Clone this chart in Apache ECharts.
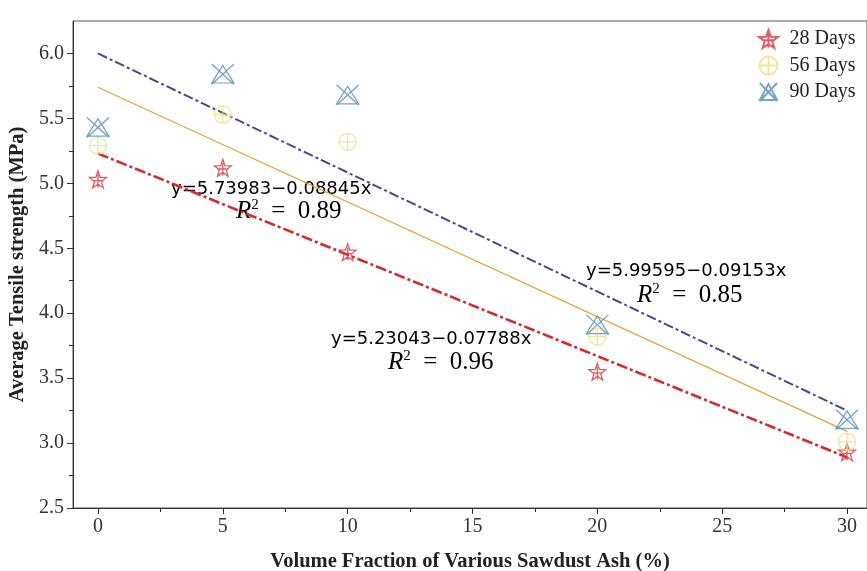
<!DOCTYPE html>
<html><head><meta charset="utf-8">
<script src="https://cdn.jsdelivr.net/npm/echarts@6/dist/echarts.min.js"></script>
<style>html,body{margin:0;padding:0;background:#fff}#c{width:867px;height:571px}</style>
</head><body><div id="c"></div>
<script>
// ---- data ----
const xValues = [0, 5, 10, 20, 30];
const days28 = [5.03, 5.12, 4.47, 3.55, 2.93];
const days56 = [5.29, 5.53, 5.32, 3.82, 3.01];
const days90 = [5.43, 5.84, 5.68, 3.91, 3.18];
const fitX = [0, 30];
const fit28 = [5.23, 2.89];
const fit56 = [5.74, 3.09];
const fit90 = [6.00, 3.25];
const xTicks = [0, 5, 10, 15, 20, 25, 30];
const xMinorTicks = [2.5, 7.5, 12.5, 17.5, 22.5, 27.5];
const yTicks = [2.5, 3.0, 3.5, 4.0, 4.5, 5.0, 5.5, 6.0];
const yMinorTicks = [2.75, 3.25, 3.75, 4.25, 4.75, 5.25, 5.75];
const seriesNames = ['28 Days', '56 Days', '90 Days'];
const equations = [
  {eq: 'y=5.73983\u22120.08845x', r2: '0.89'},
  {eq: 'y=5.99595\u22120.09153x', r2: '0.85'},
  {eq: 'y=5.23043\u22120.07788x', r2: '0.96'}
];

const pair = (xs, ys) => xs.map((x, i) => [x, ys[i]]);

const starPath = 'path://M50 0 L61.76 33.82 L97.55 34.55 L69.02 56.18 L79.39 90.45 L50 70 L20.61 90.45 L30.98 56.18 L2.45 34.55 L38.24 33.82 Z M18 52 L82 52 M50 20 L50 88';
const circlePlusPath = 'path://M50 2 A48 48 0 1 1 49.9 2 Z M2 50 L98 50 M50 2 L50 98';
const triXPath = 'path://M50 8 L96 92 L4 92 Z M4 2 L96 98 M96 2 L4 98';

const serif = 'Liberation Serif';
const axisColor = '#333';

const chart = echarts.init(document.getElementById('c'), null, {renderer: 'canvas'});

function eqGraphics(item, left, top, rLeft, rTop) {
  return [
    {type: 'text', left: left, top: top, style: {text: item.eq, font: '18px "DejaVu Sans"', fill: '#000'}},
    {type: 'text', left: rLeft, top: rTop, style: {
      rich: {
        r: {fontFamily: serif, fontStyle: 'italic', fontSize: 25, color: '#000'},
        s: {fontFamily: serif, fontSize: 15, verticalAlign: 'top', color: '#000', padding: [0, 0, 12, 0]},
        t: {fontFamily: serif, fontSize: 25, color: '#000'}
      },
      text: '{r|R}{s|2}{t|  =  ' + item.r2 + '}'
    }}
  ];
}

const option = {
  backgroundColor: '#fff',
  animation: false,
  grid: {left: 73, top: 21, right: 0, bottom: 63, outerBoundsMode: 'none', containLabel: false,
    show: true, borderColor: '#555', borderWidth: 1, backgroundColor: 'transparent'},
  legend: {
    data: seriesNames, orient: 'vertical', left: 758, top: 29, padding: 0,
    itemWidth: 20, itemHeight: 18, itemGap: 6.5,
    textStyle: {fontFamily: serif, fontSize: 20, lineHeight: 18, color: '#222', padding: [0, 0, 0, 6]}
  },
  xAxis: [{
    type: 'value', min: -1, max: 30.8, position: 'bottom',
    splitLine: {show: false},
    axisLine: {show: true, onZero: false, lineStyle: {color: axisColor, width: 1}},
    axisTick: {show: true, inside: false, length: 6, customValues: xTicks, lineStyle: {color: axisColor}},
    axisLabel: {customValues: xTicks, fontFamily: serif, fontSize: 20, color: '#333', margin: 9},
    name: 'Volume Fraction of Various Sawdust Ash (%)', nameLocation: 'middle', nameGap: 43,
    nameTextStyle: {fontFamily: serif, fontWeight: 'bold', fontSize: 20.5, color: '#222'}
  }, {
    type: 'value', min: -1, max: 30.8, position: 'bottom',
    splitLine: {show: false},
    axisLine: {show: false, onZero: false},
    axisTick: {show: true, length: 4, customValues: xMinorTicks, lineStyle: {color: axisColor}},
    axisLabel: {show: false}
  }],
  yAxis: [{
    type: 'value', min: 2.5, max: 6.25, position: 'left',
    splitLine: {show: false},
    axisLine: {show: true, onZero: false, lineStyle: {color: axisColor, width: 1}},
    axisTick: {show: true, length: 6, customValues: yTicks, lineStyle: {color: axisColor}},
    axisLabel: {customValues: yTicks, fontFamily: serif, fontSize: 20, color: '#333', margin: 9,
      formatter: v => v.toFixed(1)},
    name: 'Average Tensile strength (MPa)', nameLocation: 'middle', nameGap: 44,
    nameTextStyle: {fontFamily: serif, fontWeight: 'bold', fontSize: 20.5, color: '#222'}
  }, {
    type: 'value', min: 2.5, max: 6.25, position: 'left',
    splitLine: {show: false},
    axisLine: {show: false, onZero: false},
    axisTick: {show: true, length: 4, customValues: yMinorTicks, lineStyle: {color: axisColor}},
    axisLabel: {show: false}
  }],
  series: [
    {name: 'fit28', type: 'line', data: pair(fitX, fit28), showSymbol: false, silent: true, z: 2,
      lineStyle: {color: '#d42a2f', width: 2.6, type: [11, 3, 3, 3]}},
    {name: 'fit56', type: 'line', data: pair(fitX, fit56), showSymbol: false, silent: true, z: 2,
      lineStyle: {color: '#e3a43a', width: 1.3, type: 'solid'}},
    {name: 'fit90', type: 'line', data: pair(fitX, fit90), showSymbol: false, silent: true, z: 2,
      lineStyle: {color: '#434c86', width: 2, type: [10, 3, 3, 3]}},
    {name: seriesNames[0], type: 'scatter', data: pair(xValues, days28), symbol: starPath, symbolSize: 17, z: 3,
      itemStyle: {color: 'rgba(0,0,0,0)', borderColor: '#d4363c', borderWidth: 1.3}},
    {name: seriesNames[1], type: 'scatter', data: pair(xValues, days56), symbol: circlePlusPath, symbolSize: 17, z: 3,
      itemStyle: {color: 'rgba(0,0,0,0)', borderColor: '#ece07f', borderWidth: 1.3}},
    {name: seriesNames[2], type: 'scatter', data: pair(xValues, days90), symbol: triXPath, symbolSize: [22, 20], z: 3,
      itemStyle: {color: 'rgba(0,0,0,0)', borderColor: '#4f8fb8', borderWidth: 1.3}}
  ],
  graphic: [].concat(
    eqGraphics(equations[0], 171, 180, 236, 198),
    eqGraphics(equations[1], 586, 262, 637, 282),
    eqGraphics(equations[2], 331, 330, 388, 349)
  )
};
chart.setOption(option);
</script>
</body></html>
